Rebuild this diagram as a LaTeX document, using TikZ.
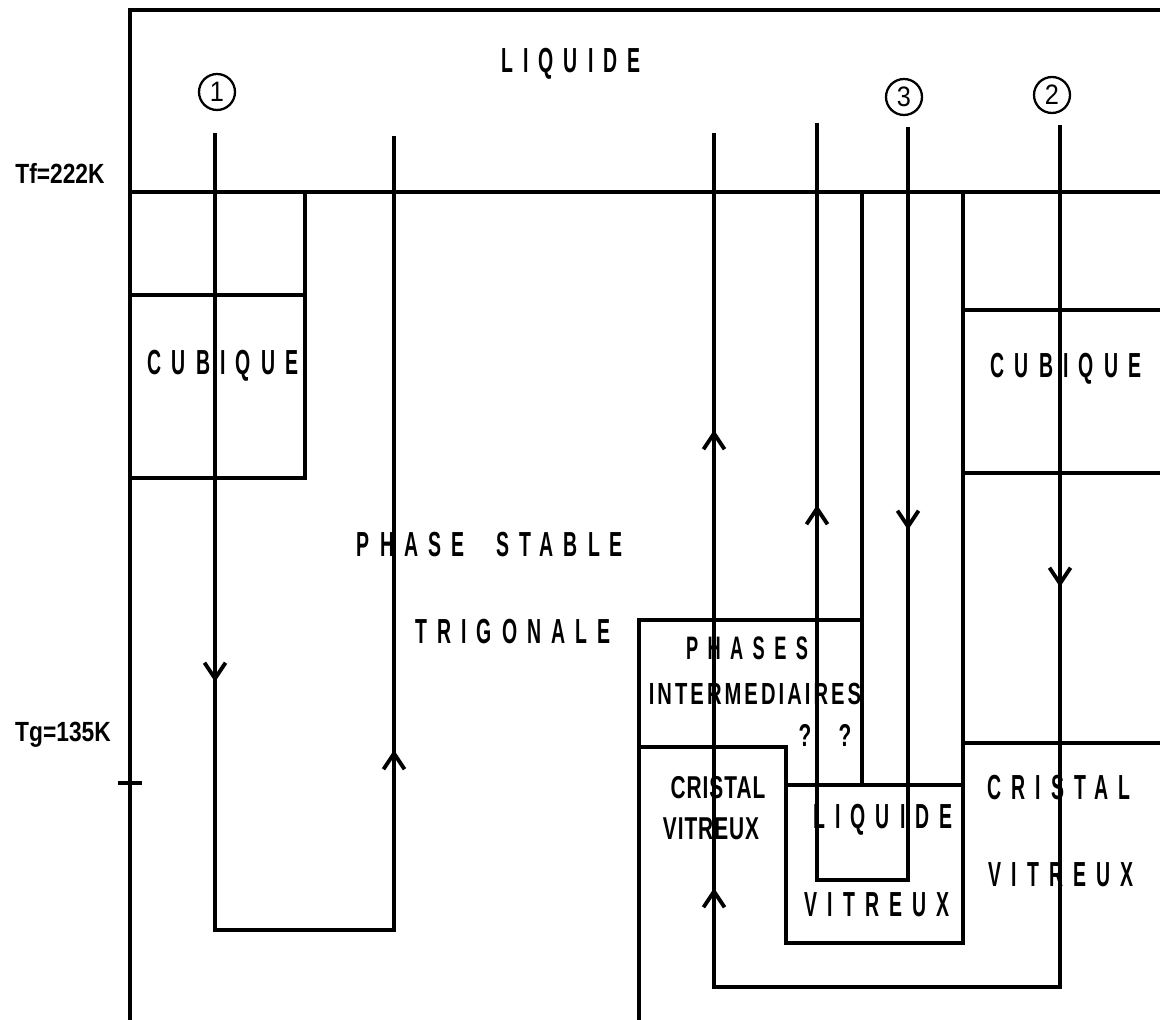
\documentclass[tikz,border=0pt]{standalone}
\usepackage{fontspec}
\setmainfont{Liberation Sans}
\newfontfamily\spacedfont[UprightFont={* Bold},FakeStretch=0.56,LetterSpace=29]{Liberation Sans}
\newfontfamily\tightfont[UprightFont={* Bold},FakeStretch=0.66,LetterSpace=3]{Liberation Sans}
\newfontfamily\tempfont[UprightFont={* Bold},FakeStretch=0.82]{Liberation Sans}
\newfontfamily\numfont[FakeStretch=0.9]{Liberation Sans}
\usetikzlibrary{arrows.meta}
\tikzset{
  frame/.style = {line width=2pt, line cap=rect},
  hist/.style  = {line width=1.8pt},
  flow/.style  = {-{Straight Barb[length=9pt,width=12pt,line width=2.2pt]}, line width=1.8pt},
  wide/.style  = {font=\spacedfont\fontsize{19.8}{22}\selectfont, inner sep=0pt},
  tight/.style = {font=\tightfont\fontsize{18}{20}\selectfont, inner sep=0pt},
  temp/.style  = {font=\tempfont\fontsize{15.8}{18}\selectfont, inner sep=0pt},
  num/.style   = {circle, draw, line width=1.3pt, minimum size=0.72cm, inner sep=0pt,
                  font=\numfont\fontsize{16}{18}\selectfont},
}

\begin{document}
\begin{tikzpicture}[x=0.02cm, y=-0.02cm]

% ---- Page frame (1 unit = 1 px of the original) -----------------------------
\useasboundingbox (0,0) rectangle (1160,1020);

\def\Tf{192}   % melting line
\def\Tg{783}   % glass transition tick

% Axis and melting line
\draw[frame] (130,1020) -- (130,10) -- (1160,10);
\draw[frame] (130,\Tf) -- (1160,\Tf);
\draw[frame] (120,\Tg) -- (140,\Tg);
\node[temp] (tf) at (60,173) {Tf=222K};
\node[temp] (tg) at (63,735) {Tg=135K};

% ---- Left: cubic domain ----------------------------------------------------
\draw[frame] (130,295) -- (305,295);
\draw[frame] (305,\Tf) -- (305,478) -- (130,478);

% ---- Middle / right: intermediate and glassy domains ------------------------
\draw[frame] (639,1020) -- (639,620) -- (862,620);
\draw[frame] (862,\Tf) -- (862,785);
\draw[frame] (639,747) -- (786,747) -- (786,943) -- (963,943) -- (963,\Tf);
\draw[frame] (786,785) -- (963,785);
% right cubic box and right glassy crystal
\draw[frame] (963,310) -- (1160,310);
\draw[frame] (963,473) -- (1160,473);
\draw[frame] (963,743) -- (1160,743);

% ---- Thermal histories -------------------------------------------------------
% path 1
\draw[hist] (215,133) -- (215,930) -- (394,930) -- (394,136);
\draw[flow] (215,655) -- (215,682);
\draw[flow] (394,777) -- (394,750);
% path 2
\draw[hist] (714,133) -- (714,987) -- (1060,987) -- (1060,125);
\draw[flow] (714,457) -- (714,430);
\draw[flow] (714,915) -- (714,888);
\draw[flow] (1060,560) -- (1060,587);
% path 3
\draw[hist] (817,123) -- (817,880) -- (908,880) -- (908,127);
\draw[flow] (817,532) -- (817,505);
\draw[flow] (908,503) -- (908,530);

\node[num] (c1) at (217,92) {1};
\node[num] (c2) at (1052,95) {2};
\node[num] (c3) at (904,97) {3};

% ---- Phase labels --------------------------------------------------------------
\node[wide] (liq)    at (571,64)  {LIQUIDE};
\node[wide] (cubl)   at (223,366) {CUBIQUE};
\node[wide] (cubr)   at (1066,369) {CUBIQUE};
\node[wide] (stable) at (490,545) {PHASE\hspace{18pt}STABLE};
\node[wide] (trig)   at (513,632) {TRIGONALE};
\node[wide, font=\spacedfont\fontsize{18.5}{20}\selectfont] (phases) at (747,648) {PHASES};
\node[tight, font=\tightfont\fontsize{17.4}{20}\selectfont\addfontfeature{LetterSpace=10}]
  (interm) at (755,694) {INTERMEDIAIRES};
\node[tight] (q1) at (805,735) {?};
\node[tight] (q2) at (845,735) {?};
\node[tight] (cristl) at (718,788) {CRISTAL};
\node[tight] (vitl)   at (711,829) {VITREUX};
\node[wide]  (liqv)   at (883,820) {LIQUIDE};
\node[wide]  (vitv)   at (877,905) {VITREUX};
\node[wide]  (cristr) at (1059,788) {CRISTAL};
\node[wide]  (vitr)   at (1061,875) {VITREUX};

\end{tikzpicture}
\end{document}
